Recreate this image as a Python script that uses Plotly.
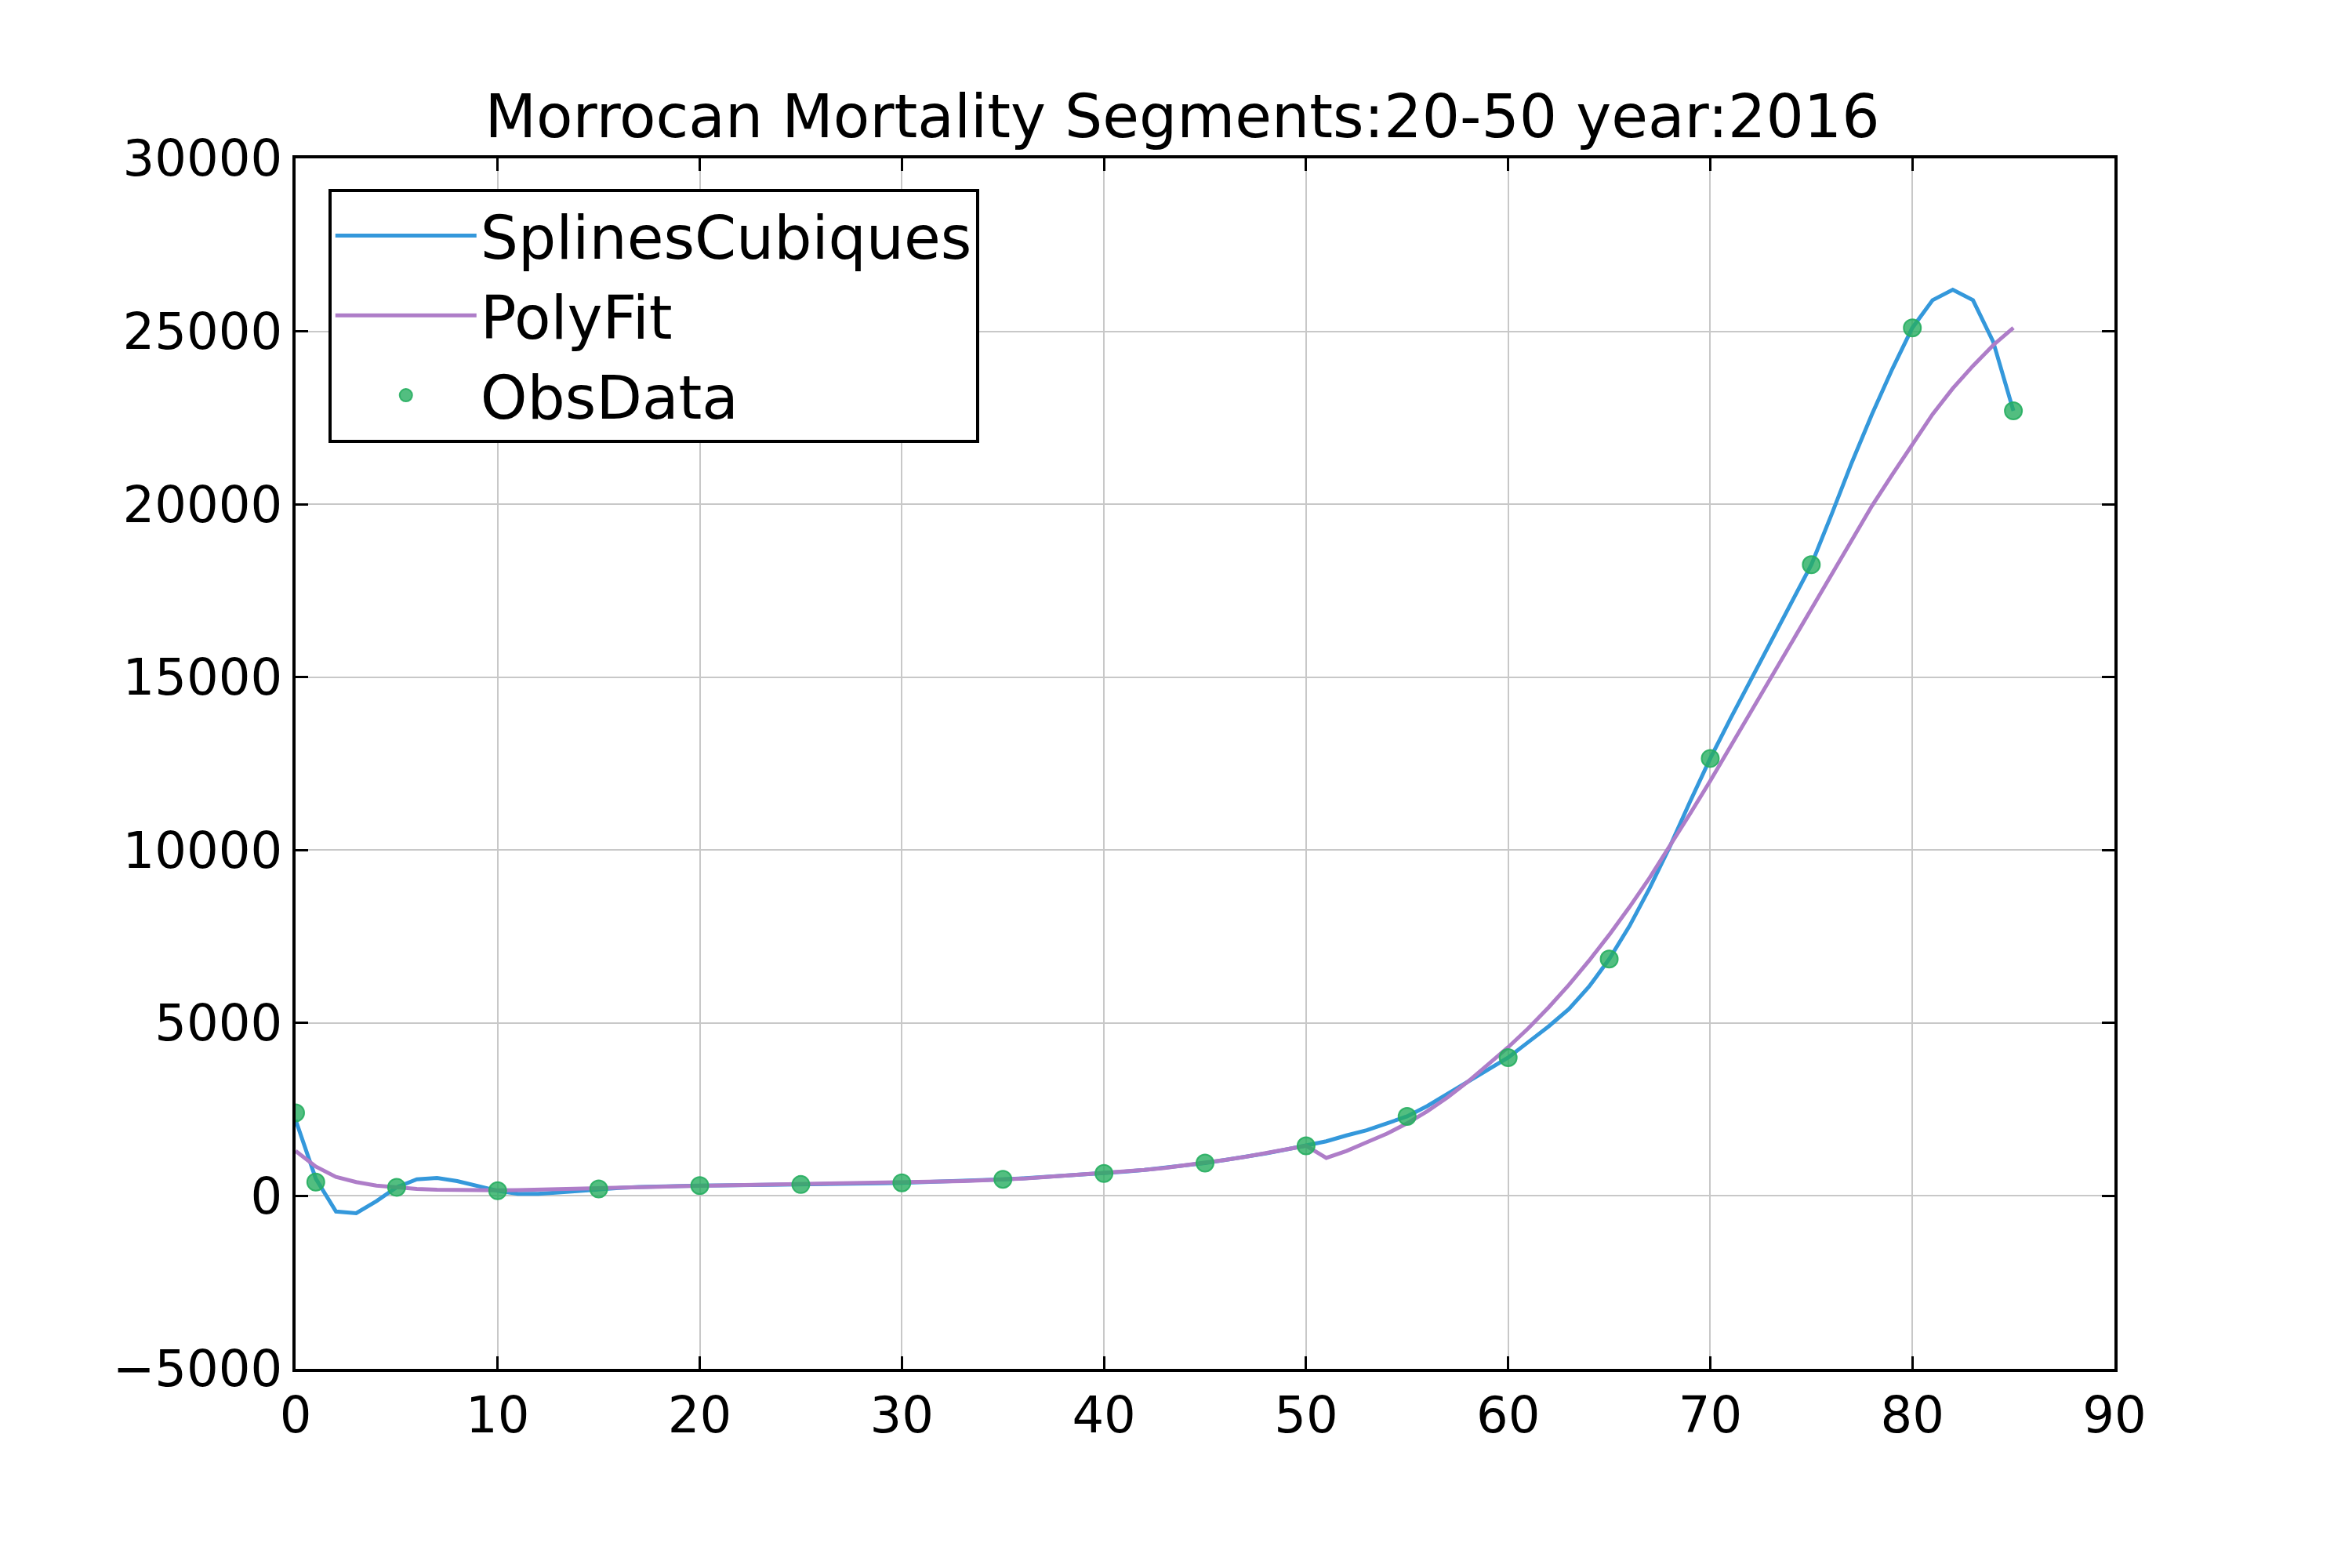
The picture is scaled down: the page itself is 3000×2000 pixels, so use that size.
import plotly.graph_objects as go

obs_x = [0, 1, 5, 10, 15, 20, 25, 30, 35, 40, 45, 50, 55, 60, 65, 70, 75, 80, 85]
obs_y = [2400, 400, 250, 150, 200, 300, 330, 380, 480, 650, 950, 1450, 2300, 4000,
         6850, 12650, 18250, 25100, 22700]

spline_x = list(range(0, 86))
spline_y = [2200, 500, -450, -500, -150, 250, 480, 520, 430, 280,
            150, 60, 60, 100, 150, 200, 230, 260, 280, 290,
            300, 305, 310, 315, 320, 330, 335, 345, 355, 365,
            380, 395, 410, 430, 455, 480, 510, 545, 580, 615,
            650, 700, 750, 810, 880, 950, 1040, 1130, 1230, 1340,
            1450, 1580, 1750, 1900, 2100, 2300, 2600, 2950, 3300, 3650,
            4000, 4450, 4900, 5400, 6050, 6850, 7800, 8900, 10100, 11400,
            12650, 13800, 14900, 16000, 17100, 18250, 19700, 21200, 22600, 23900,
            25100, 25900, 26200, 25900, 24700, 22700]

poly_x = list(range(0, 86))
poly_y = [1300, 850, 550, 400, 300, 240, 200, 180, 170, 165,
          165, 170, 180, 190, 200, 210, 230, 250, 265, 280,
          290, 300, 305, 310, 320, 330, 335, 345, 355, 365,
          380, 395, 410, 430, 450, 470, 500, 540, 580, 610,
          650, 700, 750, 810, 880, 950, 1040, 1130, 1230, 1340,
          1450, 1100, 1300, 1550, 1800, 2100, 2450, 2850, 3300, 3800,
          4300, 4850, 5450, 6100, 6800, 7550, 8350, 9200, 10100, 11050,
          12000, 13000, 14000, 15000, 16000, 17000, 18000, 19000, 19950, 20850,
          21750, 22600, 23350, 24000, 24600, 25100]

y_ticks = [-5000, 0, 5000, 10000, 15000, 20000, 25000, 30000]
y_labels = ['\u22125000', '0', '5000', '10000', '15000', '20000', '25000', '30000']

fig = go.Figure()
fig.add_trace(go.Scatter(x=spline_x, y=spline_y, mode='lines', name='SplinesCubiques',
                         line=dict(color='#3498db', width=5)))
fig.add_trace(go.Scatter(x=poly_x, y=poly_y, mode='lines', name='PolyFit',
                         line=dict(color='#ae7dc8', width=5)))
fig.add_trace(go.Scatter(x=obs_x, y=obs_y, mode='markers', name='ObsData',
                         marker=dict(color='rgba(39,174,96,0.8)', size=22,
                                     line=dict(color='rgba(39,174,96,0.9)', width=2))))

axis = dict(showline=True, linecolor='black', linewidth=4, mirror='ticks',
            ticks='inside', ticklen=16, tickwidth=3, tickcolor='black',
            showgrid=True, gridcolor='#c8c8c8', gridwidth=1.5, zeroline=False,
            tickfont=dict(size=64, color='black'))

fig.update_layout(
    width=3000, height=2000,
    paper_bgcolor='white', plot_bgcolor='white',
    font=dict(family='DejaVu Sans', color='black'),
    title=dict(text='Morrocan Mortality Segments:20-50 year:2016', x=0.5, xanchor='center',
               y=0.93, yanchor='middle', font=dict(size=76)),
    margin=dict(l=369, r=311, t=194, b=262),
    xaxis=dict(range=[0, 90], dtick=10, **axis),
    yaxis=dict(range=[-5000, 30000], tickvals=y_ticks, ticktext=y_labels, **axis),
    legend=dict(x=0.018, y=0.975, xanchor='left', yanchor='top',
                bgcolor='white', bordercolor='black', borderwidth=4,
                font=dict(size=76), itemwidth=180, tracegroupgap=40),
    showlegend=True,
)

fig.write_html("out.html")
